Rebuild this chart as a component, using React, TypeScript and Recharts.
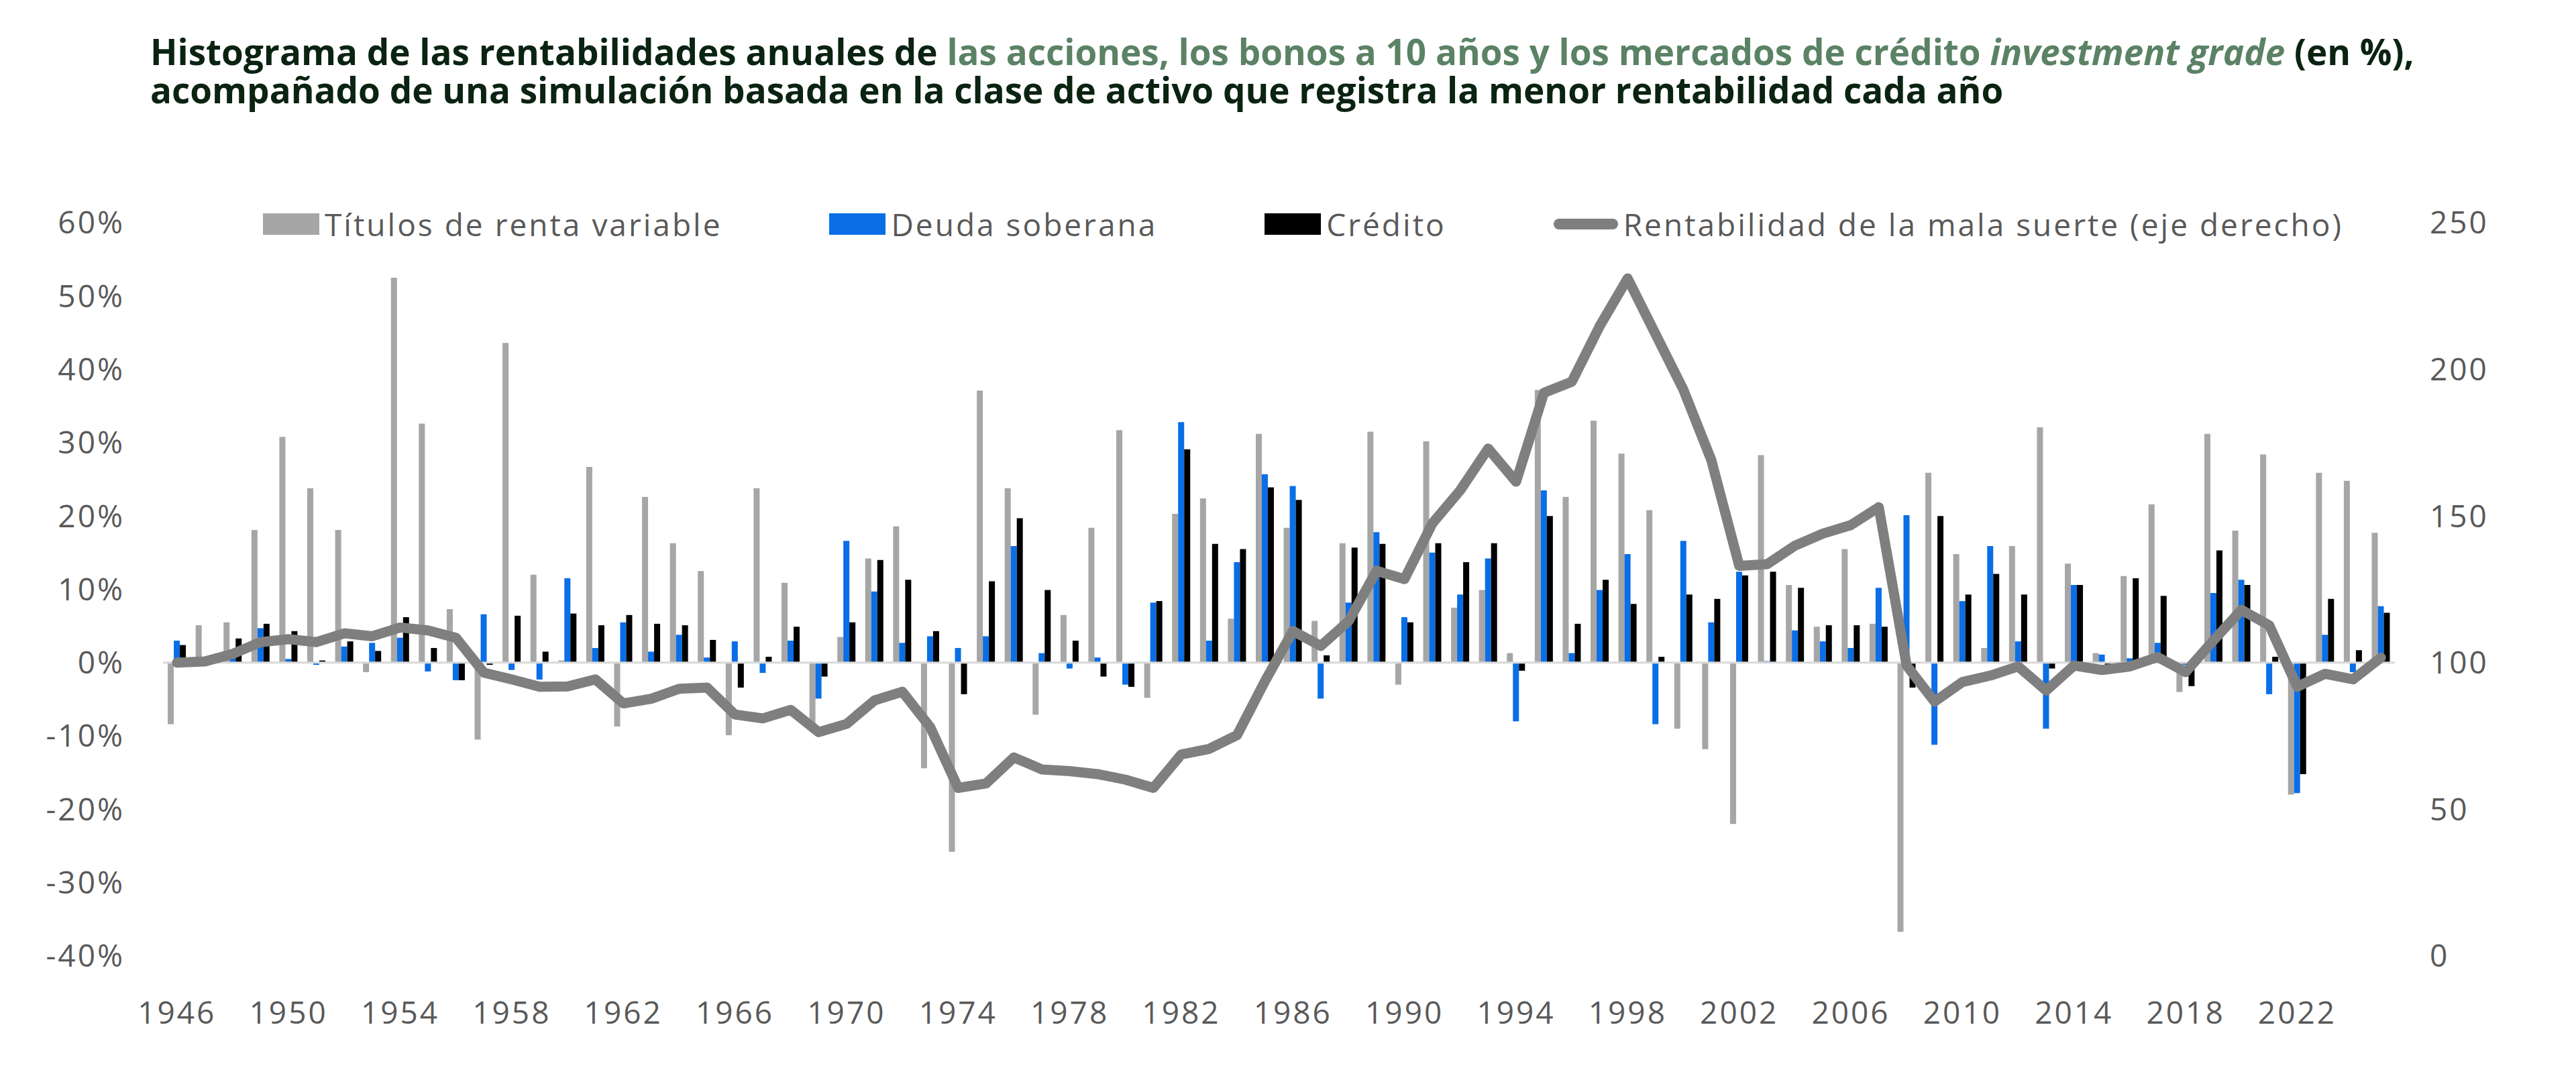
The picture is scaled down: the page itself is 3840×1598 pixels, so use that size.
import { ComposedChart, Bar, Line, XAxis, YAxis, ReferenceLine } from 'recharts'

const years = [
  1946, 1947, 1948, 1949, 1950, 1951, 1952, 1953, 1954, 1955,
  1956, 1957, 1958, 1959, 1960, 1961, 1962, 1963, 1964, 1965,
  1966, 1967, 1968, 1969, 1970, 1971, 1972, 1973, 1974, 1975,
  1976, 1977, 1978, 1979, 1980, 1981, 1982, 1983, 1984, 1985,
  1986, 1987, 1988, 1989, 1990, 1991, 1992, 1993, 1994, 1995,
  1996, 1997, 1998, 1999, 2000, 2001, 2002, 2003, 2004, 2005,
  2006, 2007, 2008, 2009, 2010, 2011, 2012, 2013, 2014, 2015,
  2016, 2017, 2018, 2019, 2020, 2021, 2022, 2023, 2024, 2025,
]

// Títulos de renta variable (%)
const equities = [
  -8.4, 5.1, 5.5, 18.1, 30.8, 23.8, 18.1, -1.3, 52.5, 32.6,
  7.3, -10.5, 43.6, 12.0, 0.3, 26.7, -8.7, 22.6, 16.3, 12.5,
  -9.9, 23.8, 10.9, -8.3, 3.5, 14.2, 18.6, -14.4, -25.8, 37.1,
  23.8, -7.1, 6.5, 18.4, 31.7, -4.8, 20.3, 22.4, 6.0, 31.2,
  18.4, 5.7, 16.3, 31.5, -3.0, 30.2, 7.5, 9.9, 1.3, 37.2,
  22.6, 33.0, 28.5, 20.8, -9.0, -11.8, -22.0, 28.3, 10.6, 4.9,
  15.5, 5.3, -36.7, 25.9, 14.8, 2.0, 15.9, 32.1, 13.5, 1.3,
  11.8, 21.6, -4.0, 31.2, 18.0, 28.4, -18.0, 25.9, 24.8, 17.7,
]

// Deuda soberana (%)
const sovereign = [
  3.0, 0.0, 1.8, 4.7, 0.5, -0.3, 2.2, 2.7, 3.4, -1.2,
  -2.4, 6.6, -1.0, -2.3, 11.5, 2.0, 5.5, 1.5, 3.8, 0.7,
  2.9, -1.4, 3.0, -4.9, 16.6, 9.7, 2.7, 3.6, 2.0, 3.6,
  15.9, 1.3, -0.8, 0.7, -3.0, 8.2, 32.8, 3.0, 13.7, 25.7,
  24.1, -4.9, 8.2, 17.8, 6.2, 15.0, 9.3, 14.2, -8.0, 23.5,
  1.3, 9.9, 14.8, -8.4, 16.6, 5.5, 12.4, 0.2, 4.4, 2.9,
  2.0, 10.2, 20.1, -11.2, 8.4, 15.9, 2.9, -9.0, 10.6, 1.1,
  0.6, 2.7, -0.3, 9.5, 11.3, -4.3, -17.8, 3.8, -1.3, 7.7,
]

// Crédito (%)
const credit = [
  2.4, 0.0, 3.3, 5.3, 4.3, 0.3, 2.9, 1.6, 6.2, 2.0,
  -2.4, -0.3, 6.4, 1.5, 6.7, 5.1, 6.5, 5.3, 5.1, 3.1,
  -3.4, 0.8, 4.9, -1.9, 5.5, 14.0, 11.3, 4.3, -4.3, 11.1,
  19.7, 9.9, 3.0, -1.9, -3.3, 8.4, 29.1, 16.2, 15.5, 23.9,
  22.2, 1.0, 15.7, 16.2, 5.5, 16.3, 13.7, 16.3, -1.1, 20.0,
  5.3, 11.3, 8.0, 0.8, 9.3, 8.7, 11.9, 12.4, 10.2, 5.1,
  5.1, 4.9, -3.4, 20.0, 9.3, 12.1, 9.3, -0.8, 10.6, -0.3,
  11.5, 9.1, -3.2, 15.3, 10.6, 0.8, -15.2, 8.7, 1.7, 6.8,
]

// Rentabilidad de la mala suerte (índice, eje derecho)
const badLuck = [
  100, 100.4, 103, 107, 108, 107, 110, 109, 112, 111,
  108.5, 96.6, 94.3, 91.8, 91.9, 94.3, 86.1, 87.7, 91.1, 91.5,
  82.3, 81.0, 83.9, 76.3, 79.1, 87.1, 90.1, 78, 57.3, 58.8,
  67.7, 63.6, 63, 62, 60.1, 57.3, 68.7, 70.6, 75.3, 93.7,
  110.8, 105.7, 114.2, 131.3, 128.5, 147.5, 158.8, 173, 161.7, 192,
  195.8, 214.8, 231, 212, 193, 169, 133, 133.6, 139.9, 144,
  146.9, 153, 99, 86.7, 93.4, 95.6, 98.7, 90.5, 99, 97.5,
  98.7, 101.9, 96.8, 107.6, 118, 112.7, 91.8, 96.2, 94.3, 101.7,
]

const leftTicks = [-40, -30, -20, -10, 0, 10, 20, 30, 40, 50, 60]
const rightTicks = [0, 50, 100, 150, 200, 250]

// small marks on the zero line, between every fourth category
const boundaryTicks = [
  1945.5, 1949.5, 1953.5, 1957.5, 1961.5, 1965.5, 1969.5, 1973.5, 1977.5, 1981.5, 1985.5,
  1989.5, 1993.5, 1997.5, 2001.5, 2005.5, 2009.5, 2013.5, 2017.5, 2021.5, 2025.5,
]

const data = years.map((year, i) => ({
  year,
  equities: equities[i],
  sovereign: sovereign[i],
  credit: credit[i],
  badLuck: badLuck[i],
}))

const FONT = '"Open Sans", "Noto Sans", sans-serif'
const TICK = { fill: '#595959', fontSize: 46, fontFamily: FONT, letterSpacing: 3 }
const DARK = '#0b2311'
const GREEN = '#5b8265'
const AXIS = '#d9d9d9'

const legendItems = [
  { label: 'Títulos de renta variable', color: '#a6a6a6', line: false },
  { label: 'Deuda soberana', color: '#0a6ee6', line: false },
  { label: 'Crédito', color: '#000000', line: false },
  { label: 'Rentabilidad de la mala suerte (eje derecho)', color: '#7f7f7f', line: true },
]

const titleLine1 = [
  { text: 'Histograma de las rentabilidades anuales de ', color: DARK, italic: false },
  { text: 'las acciones, los bonos a 10 años y los mercados de crédito ', color: GREEN, italic: false },
  { text: 'investment grade', color: GREEN, italic: true },
  { text: ' (en %),', color: DARK, italic: false },
]
const titleLine2 = 'acompañado de una simulación basada en la clase de activo que registra la menor rentabilidad cada año'

export default function App() {
  return (
    <div style={{ position: 'absolute', left: 0, top: 0, width: 3840, height: 1598, background: '#fff', fontFamily: FONT }}>
      <div
        style={{
          position: 'absolute',
          left: 224,
          top: 48,
          fontSize: 53,
          lineHeight: '57px',
          fontWeight: 700,
          color: DARK,
          whiteSpace: 'pre',
        }}
      >
        <div style={{ display: 'flex' }}>
          {titleLine1.map((part) => (
            <span key={part.text} style={{ color: part.color, fontStyle: part.italic ? 'italic' : 'normal' }}>
              {part.text}
            </span>
          ))}
        </div>
        <div>{titleLine2}</div>
      </div>

      <div
        style={{
          position: 'absolute',
          left: 392,
          top: 304,
          height: 60,
          display: 'flex',
          alignItems: 'center',
          fontSize: 46,
          letterSpacing: 3,
          color: '#595959',
          whiteSpace: 'nowrap',
        }}
      >
        {legendItems.map((item) => (
          <div key={item.label} style={{ display: 'flex', alignItems: 'center', marginRight: 160 }}>
            <span
              style={{
                display: 'inline-block',
                width: item.line ? 96 : 84,
                height: item.line ? 16 : 32,
                borderRadius: item.line ? 8 : 0,
                background: item.color,
                marginRight: 8,
              }}
            />
            <span>{item.label}</span>
          </div>
        ))}
      </div>

      <ComposedChart
        width={3840}
        height={1598}
        data={data}
        margin={{ top: 332, right: 70, bottom: 83, left: 43 }}
        barCategoryGap="17%"
        barGap={0}
      >
        <XAxis
          dataKey="year"
          interval={3}
          axisLine={false}
          tickLine={false}
          tick={TICK}
          tickMargin={62}
          height={90}
        />
        <XAxis xAxisId="edge" type="number" domain={[1945.5, 2025.5]} hide />
        <YAxis
          yAxisId="left"
          domain={[-40, 60]}
          ticks={leftTicks}
          tickFormatter={(v) => `${v}%`}
          width={200}
          axisLine={false}
          tickLine={false}
          tickMargin={51}
          tick={TICK}
        />
        <YAxis
          yAxisId="right"
          orientation="right"
          domain={[0, 250]}
          ticks={rightTicks}
          width={200}
          axisLine={false}
          tickLine={false}
          tickMargin={46}
          tick={TICK}
        />
        <ReferenceLine yAxisId="left" y={0} stroke={AXIS} strokeWidth={3} />
        {boundaryTicks.map((b) => (
          <ReferenceLine
            key={b}
            xAxisId="edge"
            yAxisId="left"
            segment={[{ x: b, y: 0 }, { x: b, y: -1.7 }]}
            stroke={AXIS}
            strokeWidth={3}
          />
        ))}
        <Bar yAxisId="left" dataKey="equities" fill="#a6a6a6" isAnimationActive={false} />
        <Bar yAxisId="left" dataKey="sovereign" fill="#0a6ee6" isAnimationActive={false} />
        <Bar yAxisId="left" dataKey="credit" fill="#000000" isAnimationActive={false} />
        <Line
          yAxisId="right"
          type="linear"
          dataKey="badLuck"
          stroke="#7f7f7f"
          strokeWidth={15}
          strokeLinecap="round"
          strokeLinejoin="round"
          dot={false}
          activeDot={false}
          isAnimationActive={false}
        />
      </ComposedChart>
    </div>
  )
}
